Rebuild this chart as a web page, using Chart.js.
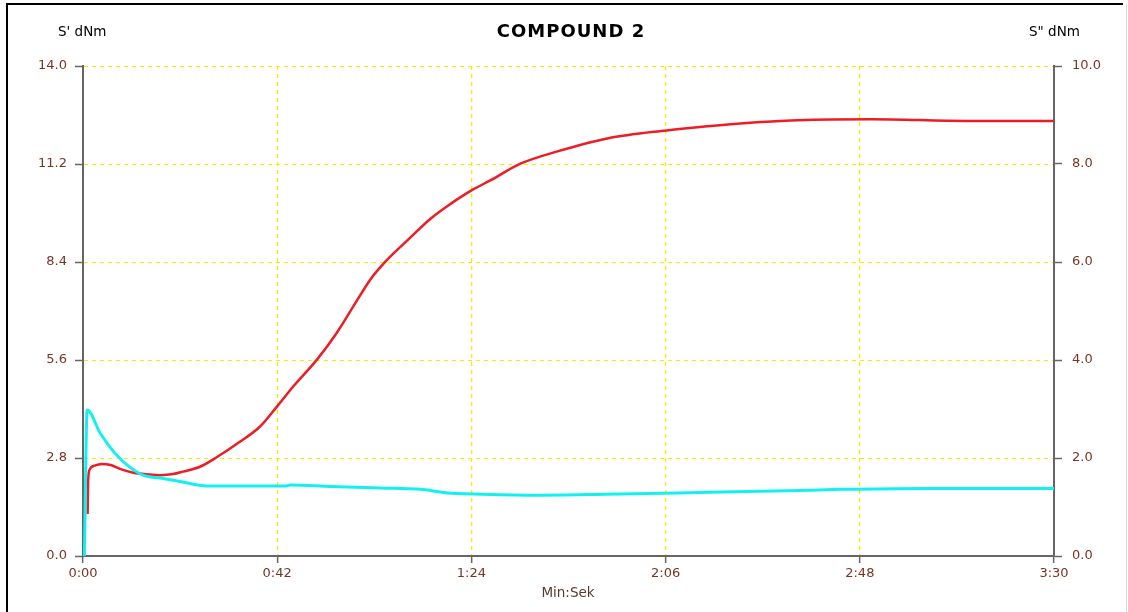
<!DOCTYPE html>
<html>
<head>
<meta charset="utf-8">
<title>COMPOUND 2</title>
<script src="https://cdn.jsdelivr.net/npm/chart.js@4/dist/chart.umd.min.js"></script>
<style>
  html, body { margin: 0; padding: 0; background: #fff; }
  canvas { display: block; }
</style>
</head>
<body>
<canvas id="curveChart" width="1128" height="612"></canvas>
<script>
// time in seconds, S' (left axis, dNm)
var redTime = [1.0, 1.1, 1.4, 2.5, 4.0, 6.0, 8.0, 10.9, 14.5, 16.7, 19.5, 21.6, 25.3, 28.9, 34.0, 38.3, 41.9, 45.5, 50.6, 54.9, 58.5, 62.2, 65.4, 70.1, 75.1, 79.5, 84.2, 88.1, 94.6, 102.6, 113.4, 126.2, 135.0, 142.2, 154.5, 170.4, 191.2, 210];
var redVals = [1.2, 2.1, 2.46, 2.58, 2.63, 2.60, 2.49, 2.38, 2.33, 2.31, 2.34, 2.41, 2.55, 2.82, 3.27, 3.70, 4.26, 4.85, 5.61, 6.38, 7.14, 7.91, 8.41, 9.01, 9.63, 10.06, 10.46, 10.73, 11.21, 11.56, 11.93, 12.16, 12.28, 12.36, 12.45, 12.48, 12.43, 12.43];

// time in seconds, S" (right axis, dNm)
var cyanTime = [0.3, 0.9, 3.7, 6.6, 9.5, 13.0, 16.7, 21.0, 26.8, 44.0, 44.8, 53.5, 64.3, 73.0, 78.4, 86.4, 98.7, 112.8, 135.5, 152.2, 163.9, 181.9, 210];
var cyanVals = [0, 2.98, 2.51, 2.13, 1.86, 1.65, 1.59, 1.52, 1.43, 1.43, 1.45, 1.42, 1.39, 1.36, 1.29, 1.26, 1.24, 1.26, 1.30, 1.33, 1.36, 1.38, 1.38];

var timeTicks = [0, 42, 84, 126, 168, 210];
var leftTicks = [0, 2.8, 5.6, 8.4, 11.2, 14.0];
var rightTicks = [0, 2, 4, 6, 8, 10];

(function () {
  'use strict';

  var FONT = '"DejaVu Sans", Verdana, sans-serif';
  var LABEL = '#7a3422';
  var AXIS = '#666666';
  var GRID = '#f0f000';

  function pts(xs, ys) {
    return xs.map(function (x, i) { return { x: x, y: ys[i] }; });
  }

  function fmtTime(v) {
    var m = Math.floor(v / 60);
    var s = Math.round(v - m * 60);
    return m + ':' + (s < 10 ? '0' : '') + s;
  }

  function setTicks(list) {
    return function (scale) {
      scale.ticks = list.map(function (v) { return { value: v }; });
    };
  }

  var decor = {
    id: 'decor',
    beforeDraw: function (chart) {
      var ctx = chart.ctx;
      ctx.save();
      ctx.fillStyle = '#fff';
      ctx.fillRect(0, 0, chart.width, chart.height);
      ctx.strokeStyle = '#000';
      ctx.lineWidth = 2;
      ctx.beginPath();
      ctx.moveTo(7, 612);
      ctx.lineTo(7, 4);
      ctx.lineTo(1123, 4);
      ctx.stroke();
      ctx.strokeStyle = '#d8d8d8';
      ctx.lineWidth = 1;
      ctx.beginPath();
      ctx.moveTo(1126.5, 4);
      ctx.lineTo(1126.5, 612);
      ctx.stroke();
      ctx.restore();
    },
    beforeDatasetsDraw: function (chart) {
      // redraw the plot frame so the end grid lines do not tint it
      var a = chart.chartArea, ctx = chart.ctx;
      ctx.save();
      ctx.strokeStyle = AXIS;
      ctx.lineWidth = 2;
      ctx.beginPath();
      ctx.moveTo(a.left, a.top);
      ctx.lineTo(a.left, a.bottom);
      ctx.lineTo(a.right, a.bottom);
      ctx.lineTo(a.right, a.top);
      ctx.stroke();
      ctx.restore();
    },
    afterDraw: function (chart) {
      var ctx = chart.ctx;
      ctx.save();
      ctx.textBaseline = 'middle';
      ctx.fillStyle = '#000';
      ctx.font = 'bold 18px ' + FONT;
      ctx.letterSpacing = '1px';
      ctx.textAlign = 'center';
      ctx.fillText('COMPOUND 2', 571, 32);
      ctx.letterSpacing = '0px';
      ctx.font = '13.5px ' + FONT;
      ctx.textAlign = 'left';
      ctx.fillText("S' dNm", 58, 32);
      ctx.fillText('S" dNm', 1029, 32);
      ctx.fillStyle = '#5a3a30';
      ctx.textAlign = 'center';
      ctx.fillText('Min:Sek', 568, 593);
      ctx.restore();
    }
  };

  new Chart(document.getElementById('curveChart'), {
    type: 'line',
    data: {
      datasets: [{
        label: 'S"',
        data: pts(cyanTime, cyanVals),
        yAxisID: 'y1',
        borderColor: '#14f0f0',
        borderWidth: 3,
        pointRadius: 0,
        cubicInterpolationMode: 'monotone',
        order: 0,
      }, {
        label: "S'",
        data: pts(redTime, redVals),
        yAxisID: 'y',
        borderColor: '#ee1c24',
        borderWidth: 2.5,
        pointRadius: 0,
        cubicInterpolationMode: 'monotone',
        order: 1,
      }],
    },
    options: {
      responsive: false,
      animation: false,
      layout: { padding: { top: 66, left: 0, right: 0, bottom: 0 } },
      plugins: {
        legend: { display: false },
        tooltip: { enabled: false },
      },
      scales: {
        x: {
          type: 'linear',
          min: 0,
          max: 210,
          afterBuildTicks: setTicks(timeTicks),
          afterFit: function (s) { s.height = 56; },
          grid: {
            color: GRID,
            lineWidth: 1.3,
            tickColor: AXIS,
            tickLength: 7,
            tickWidth: 1.5,
          },
          border: { color: AXIS, width: 2, dash: [4, 4] },
          ticks: {
            color: LABEL,
            padding: 3,
            maxRotation: 0,
            font: { family: FONT, size: 13 },
            callback: function (v) { return fmtTime(v); },
          },
        },
        y: {
          position: 'left',
          min: 0,
          max: 14,
          afterBuildTicks: setTicks(leftTicks),
          afterFit: function (s) { s.width = 83; },
          grid: {
            color: GRID,
            lineWidth: 1,
            tickColor: AXIS,
            tickLength: 8,
            tickWidth: 1.5,
          },
          border: { color: AXIS, width: 2, dash: [4, 4] },
          ticks: {
            color: LABEL,
            padding: 8,
            font: { family: FONT, size: 13 },
            callback: function (v) { return Number(v).toFixed(1); },
          },
        },
        y1: {
          position: 'right',
          min: 0,
          max: 10,
          afterBuildTicks: setTicks(rightTicks),
          afterFit: function (s) { s.width = 74; },
          grid: {
            drawOnChartArea: false,
            tickColor: AXIS,
            tickLength: 8,
            tickWidth: 1.5,
          },
          border: { color: AXIS, width: 2 },
          ticks: {
            color: LABEL,
            padding: 10,
            font: { family: FONT, size: 13 },
            callback: function (v) { return Number(v).toFixed(1); },
          },
        },
      },
    },
    plugins: [decor],
  });
})();
</script>
</body>
</html>
